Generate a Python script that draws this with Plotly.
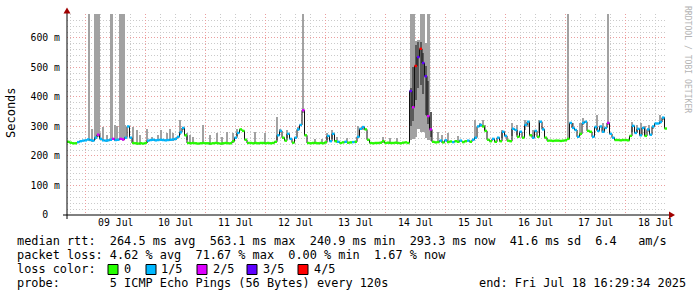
import numpy as np
import pandas as pd
import plotly.graph_objects as go

# ---------------- data ----------------
start = pd.Timestamp("2025-07-08 16:29:34")
end = pd.Timestamp("2025-07-18 16:29:34")

# median rtt per hour step (ms)
median_ms = [
    248, 245, 243, 243, 247, 250, 252, 253, 256, 254,
    252, 262, 272, 258, 253, 252, 253, 255, 258, 254,
    255, 258, 256, 262, 300, 262, 244, 243, 242, 243,
    242, 244, 252, 254, 255, 253, 254, 255, 254, 253,
    254, 255, 256, 258, 265, 280, 295, 270, 244, 243,
    244, 243, 242, 243, 244, 243, 243, 242, 243, 244,
    243, 242, 243, 244, 243, 243, 250, 262, 278, 290,
    285, 255, 244, 244, 243, 244, 243, 244, 244, 243,
    244, 243, 244, 248, 270, 285, 262, 252, 275, 258,
    245, 262, 290, 305, 355, 270, 244, 243, 244, 244,
    243, 244, 243, 246, 268, 250, 275, 250, 248, 244,
    246, 248, 245, 246, 247, 248, 265, 292, 298, 290,
    255, 244, 243, 244, 244, 245, 250, 244, 245, 244,
    244, 245, 244, 243, 245, 246, 244, 420, 365, 505,
    535, 563, 515, 470, 335, 290, 248, 246, 247, 252,
    246, 253, 247, 249, 247, 250, 248, 252, 247, 250,
    252, 248, 255, 262, 300, 305, 300, 285, 255, 250,
    258, 248, 262, 250, 282, 268, 252, 250, 292, 288,
    265, 282, 262, 305, 316, 270, 262, 285, 265, 316,
    290, 262, 252, 252, 251, 252, 252, 251, 252, 253,
    258, 312, 295, 288, 265, 275, 312, 316, 285, 282,
    265, 298, 285, 300, 282, 295, 312, 275, 262, 254,
    254, 253, 254, 254, 253, 268, 302, 278, 292, 270,
    295, 268, 290, 272, 300, 310, 310, 315, 330, 293,
]

# lost pings out of 5 per hour step
loss_fifths = [
    0, 0, 0, 0, 1, 1, 1, 1, 1, 1,
    1, 1, 2, 1, 1, 1, 1, 1, 2, 1,
    1, 2, 2, 1, 1, 1, 0, 0, 0, 0,
    0, 0, 1, 1, 1, 1, 1, 1, 1, 1,
    1, 1, 1, 1, 1, 1, 1, 0, 0, 0,
    0, 0, 0, 0, 0, 0, 0, 0, 0, 0,
    0, 0, 0, 0, 0, 0, 0, 1, 1, 0,
    0, 0, 0, 0, 0, 0, 0, 0, 0, 0,
    0, 0, 0, 0, 1, 1, 0, 0, 1, 1,
    0, 1, 1, 1, 2, 0, 0, 0, 0, 0,
    0, 0, 0, 0, 1, 1, 1, 0, 1, 0,
    0, 1, 0, 0, 1, 0, 1, 1, 1, 0,
    0, 0, 0, 0, 0, 0, 0, 0, 0, 0,
    0, 0, 0, 0, 0, 0, 0, 3, 2, 4,
    3, 4, 3, 3, 2, 2, 0, 0, 0, 1,
    0, 1, 0, 0, 1, 0, 0, 1, 0, 0,
    1, 0, 1, 1, 1, 1, 0, 0, 0, 0,
    1, 0, 1, 0, 1, 1, 0, 0, 1, 1,
    0, 1, 0, 1, 1, 0, 1, 1, 0, 1,
    1, 0, 0, 0, 0, 0, 0, 0, 0, 0,
    0, 1, 1, 1, 1, 0, 1, 1, 0, 0,
    1, 1, 1, 1, 1, 1, 2, 1, 1, 0,
    0, 0, 0, 0, 0, 0, 1, 1, 1, 1,
    1, 0, 1, 1, 1, 1, 1, 1, 1, 0,
]

# isolated smoke spikes: hours after start, max ping (ms)
spike_hours = [
    8.8, 11.2, 11.6, 12.0, 12.8, 17.6, 18.0, 21.2, 21.6, 22.0, 22.4, 22.8,
    94.4, 200.4, 216.4,
    10.0, 13.2, 14.4, 16.0, 19.2, 20.0, 23.2, 26.4, 28.0, 29.2, 32.0, 34.0,
    36.4, 37.6, 40.0, 41.2, 42.4, 45.2, 46.4, 48.0, 49.2, 50.4, 54.4, 57.2,
    60.0, 62.0, 64.0, 66.4, 68.0, 75.2, 79.2, 84.0, 85.2, 86.4, 88.0, 92.4,
    99.2, 102.0, 104.0, 106.0, 108.0, 112.0, 116.4, 118.4, 126.4, 129.2, 132.0,
    148.4, 150.0, 152.4, 156.4, 163.2, 165.2, 166.4, 167.2, 174.0, 178.0, 180.0,
    183.2, 184.4, 186.4, 188.8, 190.4, 202.4, 205.2, 206.4, 212.0, 214.4,
    226.0, 228.0, 229.6, 231.2, 232.8, 234.4, 237.2, 238.4,
]
spike_top_ms = [
    690, 690, 690, 690, 690, 690, 690, 690, 690, 690, 690, 690,
    690, 690, 690,
    292, 277, 298, 271, 305, 300, 305, 299, 288, 271, 293, 265,
    271, 288, 277, 290, 277, 322, 299, 277, 271, 265, 305, 271,
    277, 265, 282, 277, 293, 282, 278, 332, 290, 265, 288, 299,
    256, 256, 277, 288, 265, 260, 302, 288, 265, 260, 260,
    282, 271, 277, 266, 322, 311, 322, 305, 288, 311, 305,
    322, 299, 288, 322, 299, 311, 311, 327, 339, 311,
    316, 305, 311, 300, 305, 299, 339, 330,
]

# 14 Jul congestion: dense smoke per hour step, starting at step 137
peak_first_step = 137
peak_light_lo = [255, 258, 265, 290, 280, 280, 262, 255, 250]
peak_light_hi = [690, 690, 588, 593, 690, 690, 582, 690, 330]
peak_dark_lo = [300, 320, 390, 430, 440, 410, 340, 310, 265]
peak_dark_hi = [430, 500, 575, 585, 585, 550, 505, 455, 350]

loss_labels = ["0", "1/5", "2/5", "3/5", "4/5"]
loss_colors = ["#26ff00", "#00b8ff", "#dd00ff", "#5e00ff", "#ff0000"]

y_tick_vals = [0, 100, 200, 300, 400, 500, 600]
y_tick_text = ["0\u00a0\u00a0", "100 m", "200 m", "300 m", "400 m", "500 m", "600 m"]

legend_lines = [
    "median rtt:  264.5 ms avg  563.1 ms max  240.9 ms min  293.3 ms now  41.6 ms sd  6.4   am/s",
    "packet loss: 4.62 % avg  71.67 % max  0.00 % min  1.67 % now",
    "loss color:",
    "probe:       5 ICMP Echo Pings (56 Bytes) every 120s",
]
end_text = "end: Fri Jul 18 16:29:34 2025"

# ---------------- figure ----------------
MONO = "DejaVu Sans Mono"
HOUR = pd.Timedelta(hours=1)
n = len(median_ms)
times = [start + i * HOUR for i in range(n)]
med = np.array(median_ms, dtype=float)

fig = go.Figure()

# spikes
sp_base = np.interp(spike_hours, np.arange(n) + 0.5, med) - 4
sp_top = np.array(spike_top_ms, dtype=float)
fig.add_trace(go.Bar(
    x=[start + pd.Timedelta(hours=h) for h in spike_hours],
    y=sp_top - sp_base, base=sp_base, width=0.45 * 3600e3,
    marker=dict(color="#a2a2a2", line=dict(width=0)), hoverinfo="skip"))

# peak smoke
px_times = [times[peak_first_step + k] + pd.Timedelta(minutes=30) for k in range(len(peak_light_lo))]
fig.add_trace(go.Bar(
    x=px_times, y=np.array(peak_light_hi) - np.array(peak_light_lo), base=peak_light_lo,
    width=3600e3, marker=dict(color="#a2a2a2", line=dict(width=0)), hoverinfo="skip"))
fig.add_trace(go.Bar(
    x=px_times, y=np.array(peak_dark_hi) - np.array(peak_dark_lo), base=peak_dark_lo,
    width=0.8 * 3600e3, marker=dict(color="#5a5a5a", line=dict(width=0)), hoverinfo="skip"))

# median connector
fig.add_trace(go.Scatter(
    x=times + [end], y=list(med) + [med[-1]], mode="lines",
    line=dict(color="#111111", width=1, shape="hv"), hoverinfo="skip"))

# median coloured by loss
for lvl, col in enumerate(loss_colors):
    xs, ys = [], []
    for i in range(n):
        if loss_fifths[i] == lvl:
            xs += [times[i], times[i] + HOUR, None]
            ys += [med[i], med[i], None]
    if xs:
        fig.add_trace(go.Scatter(x=xs, y=ys, mode="lines",
                                 line=dict(color=col, width=2.4), hoverinfo="skip"))

# ---------------- layout helpers ----------------
L, R, T, B = 67, 667, 14, 215


def fx(px):
    return (px - L) / (R - L)


def fy(py):
    return (B - py) / (B - T)


shapes = [
    dict(type="line", xref="paper", yref="paper", x0=fx(63), x1=fx(671), y0=0, y1=0,
         line=dict(color="black", width=1)),
    dict(type="line", xref="paper", yref="paper", x0=0, x1=0, y0=fy(219), y1=fy(12),
         line=dict(color="black", width=1)),
    dict(type="path", xref="paper", yref="paper",
         path=f"M {fx(63.5)} {fy(13.5)} L {fx(70.5)} {fy(13.5)} L {fx(67)} {fy(7.5)} Z",
         fillcolor="#a00000", line=dict(width=0)),
    dict(type="path", xref="paper", yref="paper",
         path=f"M {fx(669)} {fy(211.5)} L {fx(669)} {fy(218.5)} L {fx(675)} {fy(215)} Z",
         fillcolor="#a00000", line=dict(width=0)),
]

annotations = []
line_y = [241, 255, 269, 283]
for txt, ly in zip(legend_lines, line_y):
    annotations.append(dict(xref="paper", yref="paper", x=fx(15), y=fy(ly), text=txt.replace(" ", "\u00a0"),
                            xanchor="left", yanchor="middle", showarrow=False,
                            font=dict(family=MONO, size=11.86, color="black")))
annotations.append(dict(xref="paper", yref="paper", x=fx(477), y=fy(283), text=end_text.replace(" ", "\u00a0"),
                        xanchor="left", yanchor="middle", showarrow=False,
                        font=dict(family=MONO, size=11.86, color="black")))

box_x = [108, 146, 197, 247, 298]
lab_x = [123, 160, 212, 262, 313]
for lbl, col, bx, lx in zip(loss_labels, loss_colors, box_x, lab_x):
    shapes.append(dict(type="rect", xref="paper", yref="paper", x0=fx(bx), x1=fx(bx + 10),
                       y0=fy(274.5), y1=fy(264.5), fillcolor=col, line=dict(color="black", width=1)))
    annotations.append(dict(xref="paper", yref="paper", x=fx(lx - 1), y=fy(269), text=lbl,
                            xanchor="left", yanchor="middle", showarrow=False,
                            font=dict(family=MONO, size=11.86, color="black")))

annotations.append(dict(xref="paper", yref="paper", x=fx(11), y=fy(113), text="Seconds", textangle=-90,
                        xanchor="center", yanchor="middle", showarrow=False,
                        font=dict(family=MONO, size=12, color="black")))
annotations.append(dict(xref="paper", yref="paper", x=fx(688), y=fy(59), text="RRDTOOL / TOBI OETIKER",
                        textangle=90, xanchor="center", yanchor="middle", showarrow=False,
                        font=dict(family=MONO, size=8.1, color="#b4b4b4")))

MAJOR = "#eb9e9e"
MINOR = "#cacaca"
DASH = "1px,2px"

fig.update_layout(
    width=697, height=297, margin=dict(l=L, r=697 - R, t=T, b=297 - B),
    paper_bgcolor="white", plot_bgcolor="white", showlegend=False,
    barmode="overlay", bargap=0,
    shapes=shapes, annotations=annotations,
    xaxis=dict(type="date", range=[start, end], showgrid=True, gridcolor=MAJOR, griddash=DASH, gridwidth=1,
               tick0="2025-07-09 00:00:00", dtick=86400000, tickformat="%d %b", ticklabelmode="period",
               ticks="", showline=False, zeroline=False,
               tickfont=dict(family=MONO, size=9.8, color="black"),
               minor=dict(dtick=21600000, tick0="2025-07-09 00:00:00", showgrid=True,
                          gridcolor=MINOR, griddash=DASH, gridwidth=1)),
    yaxis=dict(range=[0, 681], tickmode="array", tickvals=y_tick_vals, ticktext=y_tick_text,
               showgrid=True, gridcolor=MAJOR, griddash=DASH, gridwidth=1,
               ticks="", showline=False, zeroline=False, ticklabelstandoff=6,
               tickfont=dict(family=MONO, size=9.8, color="black"),
               minor=dict(dtick=20, tick0=0, showgrid=True, gridcolor=MINOR, griddash=DASH, gridwidth=1)),
)

fig.write_html("out.html")
